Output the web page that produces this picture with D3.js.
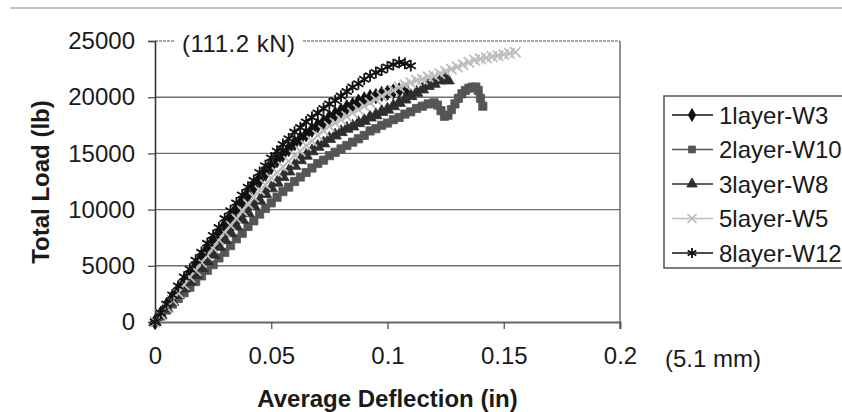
<!DOCTYPE html>
<html>
<head>
<meta charset="utf-8">
<script src="https://cdn.jsdelivr.net/npm/d3@7"></script>
<style>
  body { margin: 0; background: #fff; }
  svg { display: block; font-family: "Liberation Sans", Arial, sans-serif; }
</style>
</head>
<body>
<div id="chart"></div>
<script>
////////////////////////////////////////////////////////////////
//////////////////////////// Data //////////////////////////////
////////////////////////////////////////////////////////////////

var seriesNames = ["1layer-W3", "2layer-W10", "3layer-W8", "5layer-W5", "8layer-W12"];

// [average deflection (in), total load (lb)]
var layer1W3 = [
  [0,0],[0.0025,750],[0.005,1500],[0.0075,2200],[0.01,2900],[0.0125,3600],[0.015,4300],
  [0.0175,5000],[0.02,5800],[0.0225,6500],[0.025,7200],[0.0275,7900],[0.03,8600],
  [0.0325,9300],[0.035,10000],[0.0375,10700],[0.04,11300],[0.0425,12000],[0.045,12600],
  [0.0475,13200],[0.05,13800],[0.0525,14400],[0.055,14900],[0.0575,15400],[0.06,15900],
  [0.0625,16300],[0.065,16700],[0.0675,17100],[0.07,17500],[0.0725,17800],[0.075,18200],
  [0.0775,18500],[0.08,18800],[0.0825,19100],[0.085,19300],[0.0875,19600],[0.09,19800],
  [0.0925,20000],[0.095,20100],[0.0975,20300],[0.1,20400],[0.1025,20500],[0.105,20600],
  [0.108,20600]
];
var layer2W10 = [
  [0,0],[0.0025,530],[0.005,1060],[0.0075,1600],[0.01,2100],[0.0125,2600],[0.015,3100],
  [0.0175,3600],[0.02,4100],[0.0225,4600],[0.025,5100],[0.0275,5700],[0.03,6200],
  [0.0325,6800],[0.035,7400],[0.0375,7900],[0.04,8500],[0.0425,9000],[0.045,9600],
  [0.0475,10100],[0.05,10600],[0.0525,11100],[0.055,11600],[0.0575,12000],[0.06,12500],
  [0.0625,12900],[0.065,13300],[0.0675,13700],[0.07,14100],[0.0725,14400],[0.075,14800],
  [0.0775,15100],[0.08,15400],[0.0825,15700],[0.085,16000],[0.0875,16300],[0.09,16600],
  [0.0925,17000],[0.095,17200],[0.0975,17500],[0.1,17700],[0.1025,18000],[0.105,18200],
  [0.1075,18500],[0.11,18700],[0.1125,19000],[0.115,19200],[0.1175,19400],[0.12,19500],
  [0.1215,19300],[0.123,18800],[0.1245,18300],[0.126,18400],[0.1275,18900],[0.129,19400],
  [0.1305,19900],[0.132,20300],[0.1335,20600],[0.135,20800],[0.1365,20900],[0.138,20900],
  [0.139,20600],[0.14,19900],[0.141,19200]
];
var layer3W8 = [
  [0,0],[0.0025,600],[0.005,1200],[0.0075,1800],[0.01,2400],[0.0125,3000],[0.015,3600],
  [0.0175,4200],[0.02,4800],[0.0225,5400],[0.025,6000],[0.0275,6700],[0.03,7300],
  [0.0325,7900],[0.035,8500],[0.0375,9100],[0.04,9700],[0.0425,10300],[0.045,10800],
  [0.0475,11400],[0.05,11900],[0.0525,12400],[0.055,12900],[0.0575,13400],[0.06,13900],
  [0.0625,14400],[0.065,14800],[0.0675,15200],[0.07,15600],[0.0725,15900],[0.075,16300],
  [0.0775,16600],[0.08,16900],[0.0825,17200],[0.085,17400],[0.0875,17700],[0.09,17900],
  [0.0925,18200],[0.095,18400],[0.0975,18700],[0.1,18900],[0.1025,19200],[0.105,19500],
  [0.1075,19800],[0.11,20100],[0.1125,20400],[0.115,20700],[0.1175,21000],[0.12,21200],
  [0.1225,21500],[0.125,21700],[0.126,21500]
];
var layer5W5 = [
  [0,0],[0.0025,650],[0.005,1300],[0.0075,1950],[0.01,2600],[0.0125,3300],[0.015,4000],
  [0.0175,4600],[0.02,5300],[0.0225,5900],[0.025,6600],[0.0275,7300],[0.03,8000],
  [0.0325,8600],[0.035,9200],[0.0375,9900],[0.04,10500],[0.0425,11100],[0.045,11700],
  [0.0475,12200],[0.05,12800],[0.0525,13300],[0.055,13800],[0.0575,14300],[0.06,14800],
  [0.0625,15200],[0.065,15700],[0.0675,16100],[0.07,16600],[0.0725,17000],[0.075,17400],
  [0.0775,17700],[0.08,18000],[0.0825,18300],[0.085,18600],[0.0875,18900],[0.09,19200],
  [0.0925,19500],[0.095,19800],[0.0975,20100],[0.1,20400],[0.1025,20600],[0.105,20900],
  [0.1075,21100],[0.11,21300],[0.1125,21500],[0.115,21600],[0.1175,21800],[0.12,21900],
  [0.1225,22100],[0.125,22300],[0.1275,22500],[0.13,22700],[0.1325,22900],[0.135,23100],
  [0.1375,23300],[0.14,23400],[0.1425,23500],[0.145,23600],[0.1475,23700],[0.15,23800],
  [0.1525,23900],[0.155,24000]
];
var layer8W12 = [
  [0,0],[0.0025,800],[0.005,1600],[0.0075,2400],[0.01,3200],[0.0125,4000],[0.015,4700],
  [0.0175,5500],[0.02,6200],[0.0225,7000],[0.025,7700],[0.0275,8400],[0.03,9200],
  [0.0325,9900],[0.035,10600],[0.0375,11300],[0.04,12000],[0.0425,12600],[0.045,13300],
  [0.0475,13900],[0.05,14600],[0.0525,15200],[0.055,15800],[0.0575,16300],[0.06,16900],
  [0.0625,17300],[0.065,17800],[0.0675,18200],[0.07,18600],[0.0725,19000],[0.075,19400],
  [0.0775,19700],[0.08,20100],[0.0825,20500],[0.085,20900],[0.0875,21200],[0.09,21600],
  [0.0925,21900],[0.095,22200],[0.0975,22400],[0.1,22700],[0.1025,22900],[0.105,23100],
  [0.1075,23000],[0.11,22800]
];

var xTicks = [0, 0.05, 0.1, 0.15, 0.2];
var xTickLabels = ["0", "0.05", "0.1", "0.15", "0.2"];
var yTicks = [0, 5000, 10000, 15000, 20000, 25000];
var yTickLabels = ["0", "5000", "10000", "15000", "20000", "25000"];

////////////////////////////////////////////////////////////////
//////////////////////////// Setup /////////////////////////////
////////////////////////////////////////////////////////////////

var width = 842, height = 412;
var plot = {left: 155, right: 620, top: 41, bottom: 322};

var series = [
  {name: seriesNames[0], values: layer1W3,  color: "#111", marker: "diamond"},
  {name: seriesNames[1], values: layer2W10, color: "#555", marker: "square"},
  {name: seriesNames[2], values: layer3W8,  color: "#2e2e2e", marker: "triangle"},
  {name: seriesNames[3], values: layer5W5,  color: "#bdbdbd", marker: "cross"},
  {name: seriesNames[4], values: layer8W12, color: "#111", marker: "star"}
];

var svg = d3.select("#chart").append("svg")
    .attr("width", width)
    .attr("height", height);

var x = d3.scaleLinear().domain([0, 0.2]).range([plot.left, plot.right]);
var y = d3.scaleLinear().domain([0, 25000]).range([plot.bottom, plot.top]);

//scanned page rule at the top
svg.append("line")
    .attr("x1", 10).attr("x2", width)
    .attr("y1", 8).attr("y2", 8)
    .style("stroke", "#8a8a8a").style("stroke-width", 1.2);

//horizontal gridlines
svg.append("g").selectAll("line")
  .data(yTicks.filter(function(d) { return d > 0 && d < 25000; }))
  .enter().append("line")
    .attr("x1", plot.left).attr("x2", plot.right)
    .attr("y1", function(d) { return y(d); })
    .attr("y2", function(d) { return y(d); })
    .style("stroke", "#6e6e6e").style("stroke-width", 1.4);

//top line (broken by the kN label)
svg.append("line")
    .attr("x1", plot.left).attr("x2", plot.right)
    .attr("y1", y(25000)).attr("y2", y(25000))
    .style("stroke", "#8c8c8c").style("stroke-width", 1.3)
    .style("stroke-dasharray", "3,1");

//right border
svg.append("line")
    .attr("x1", plot.right).attr("x2", plot.right)
    .attr("y1", plot.top).attr("y2", plot.bottom + 7)
    .style("stroke", "#666").style("stroke-width", 1.4);

//axes
var yAxis = d3.axisLeft(y).tickValues(yTicks)
    .tickFormat(function(d, i) { return yTickLabels[i]; })
    .tickSize(7).tickPadding(13);
var xAxis = d3.axisBottom(x).tickValues(xTicks)
    .tickFormat(function(d, i) { return xTickLabels[i]; })
    .tickSize(7).tickPadding(18);

var gy = svg.append("g").attr("transform", "translate(" + plot.left + ",0)").call(yAxis);
var gx = svg.append("g").attr("transform", "translate(0," + plot.bottom + ")").call(xAxis);

gy.select(".domain").style("stroke", "#333").style("stroke-width", 1.6);
gx.select(".domain").style("stroke", "#666").style("stroke-width", 1.8);
svg.selectAll(".tick line").style("stroke", "#555").style("stroke-width", 1.3);
svg.selectAll(".tick text")
    .style("font-size", "24px")
    .style("fill", "#1a1a1a")
    .style("font-family", "'Liberation Sans', Arial, sans-serif");

//kN and mm annotations
svg.append("rect")
    .attr("x", 174).attr("y", 28).attr("width", 128).attr("height", 28)
    .style("fill", "#fff");
svg.append("text")
    .attr("x", 182).attr("y", 52)
    .style("font-size", "24px").style("fill", "#1a1a1a").style("letter-spacing", "0.5px")
    .text("(111.2 kN)");
svg.append("text")
    .attr("x", 665).attr("y", 367)
    .style("font-size", "24px").style("fill", "#1a1a1a")
    .text("(5.1 mm)");

//axis titles
svg.append("text")
    .attr("x", (plot.left + plot.right) / 2).attr("y", 407)
    .attr("text-anchor", "middle")
    .style("font-size", "24px").style("font-weight", "bold").style("fill", "#1a1a1a")
    .text("Average Deflection (in)");
svg.append("text")
    .attr("transform", "translate(49,182) rotate(-90)")
    .attr("text-anchor", "middle")
    .style("font-size", "24px").style("font-weight", "bold").style("fill", "#1a1a1a")
    .text("Total Load (lb)");

////////////////////////////////////////////////////////////////
/////////////////////////// Series /////////////////////////////
////////////////////////////////////////////////////////////////

var line = d3.line()
    .x(function(d) { return x(d[0]); })
    .y(function(d) { return y(d[1]); });

function drawMarker(sel, type, color, s) {
  if (type === "diamond" || type === "square" || type === "triangle") {
    var sym = {diamond: d3.symbolDiamond, square: d3.symbolSquare, triangle: d3.symbolTriangle}[type];
    sel.append("path")
        .attr("d", d3.symbol().type(sym).size(s * s * 0.75)())
        .style("fill", color).style("stroke", color).style("stroke-width", 0.8);
  } else if (type === "cross") {
    var r = s * 0.55;
    sel.append("path")
        .attr("d", "M" + -r + "," + -r + "L" + r + "," + r + "M" + -r + "," + r + "L" + r + "," + -r)
        .style("stroke", color).style("stroke-width", 1.8).style("fill", "none");
  } else {
    var r = s * 0.62, c = r * Math.cos(Math.PI / 6), h = r / 2;
    sel.append("path")
        .attr("d", "M0," + -r + "L0," + r +
                   "M" + -c + "," + -h + "L" + c + "," + h +
                   "M" + -c + "," + h + "L" + c + "," + -h)
        .style("stroke", color).style("stroke-width", 1.8).style("fill", "none");
  }
}

var gs = svg.append("g").selectAll("g")
  .data(series)
  .enter().append("g");

gs.append("path")
    .attr("d", function(d) { return line(d.values); })
    .style("fill", "none")
    .style("stroke", function(d) { return d.color; })
    .style("stroke-width", 1.6);

gs.each(function(s) {
  d3.select(this).selectAll("g.pt")
    .data(s.values)
    .enter().append("g")
      .attr("class", "pt")
      .attr("transform", function(d) { return "translate(" + x(d[0]) + "," + y(d[1]) + ")"; })
      .each(function() { drawMarker(d3.select(this), s.marker, s.color, 9.5); });
});

////////////////////////////////////////////////////////////////
/////////////////////////// Legend /////////////////////////////
////////////////////////////////////////////////////////////////

var legend = svg.append("g");
legend.append("path")
    .attr("d", "M" + (width + 2) + ",96H664V268H" + (width + 2))
    .style("fill", "#fff").style("stroke", "#555").style("stroke-width", 1.5);

var items = legend.selectAll("g.item")
  .data(series)
  .enter().append("g")
    .attr("class", "item")
    .attr("transform", function(d, i) { return "translate(0," + (115 + i * 34.5) + ")"; });

items.append("line")
    .attr("x1", 672).attr("x2", 713)
    .style("stroke", function(d) { return d.color; })
    .style("stroke-width", 1.5);
items.append("g")
    .attr("transform", "translate(692,0)")
    .each(function(d) { drawMarker(d3.select(this), d.marker, d.color, 8); });
items.append("text")
    .attr("x", 719).attr("y", 8.5)
    .style("font-size", "24px").style("fill", "#1a1a1a")
    .text(function(d) { return d.name; });
</script>
</body>
</html>
